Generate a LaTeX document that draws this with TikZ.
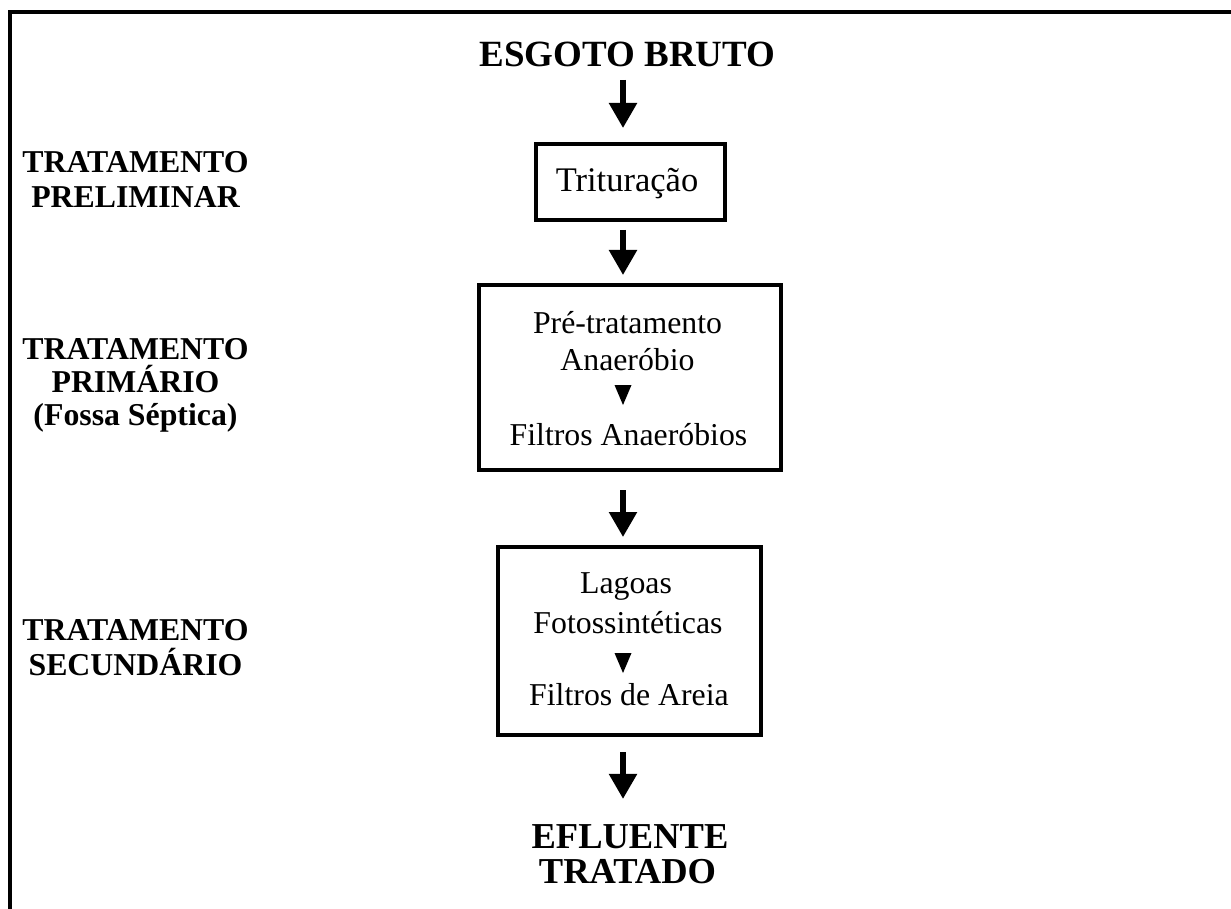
\documentclass[tikz,border=0pt]{standalone}
\usepackage{fontspec}
\setmainfont{Liberation Serif}
\usetikzlibrary{arrows.meta}
\tikzset{
  boxnode/.style={draw,line width=4pt,inner sep=0pt},
  lbl/.style={anchor=base,inner sep=0pt,font=\fontsize{31.8}{36}\selectfont\bfseries},
  txt/.style={anchor=base,inner sep=0pt,font=\fontsize{31.8}{38}\selectfont},
  big/.style={anchor=base,inner sep=0pt,font=\fontsize{36.5}{42}\selectfont\bfseries},
  arr/.style={line width=5.5pt,-{Triangle[width=27pt,length=25pt]}},
  tri/.style={fill=black}
}
\begin{document}
\begin{tikzpicture}[x=1pt,y=-1pt]
\useasboundingbox (0,0) rectangle (1231,909);
% frame
\draw[line width=4pt] (10,909) -- (10,12) -- (1231,12);
% axis of arrows
\coordinate (ax) at (623,0);
% top title
\node[anchor=base,inner sep=0pt,font=\fontsize{37}{42}\selectfont\bfseries] (esgoto) at (627.5,67) {ESGOTO BRUTO};
% boxes
\node[boxnode,minimum width=189pt,minimum height=76pt] (b1) at (630.5,182) {};
\node[boxnode,minimum width=302pt,minimum height=185pt] (b2) at (630,377.5) {};
\node[boxnode,minimum width=263pt,minimum height=188pt] (b3) at (629.5,641) {};
% box texts
\node[txt,font=\fontsize{34.5}{40}\selectfont] (t1) at (627,192) {Trituração};
\node[txt] (t2a) at (627.5,333) {Pré-tratamento};
\node[txt] (t2b) at (627.5,370) {Anaeróbio};
\node[txt] (t2c) at (628.5,445) {Filtros Anaeróbios};
\node[txt] (t3a) at (626,593) {Lagoas};
\node[txt] (t3b) at (628,633) {Fotossintéticas};
\node[txt] (t3c) at (629,705) {Filtros de Areia};
% small triangles
\fill[tri] (614.5,385) -- (631.5,385) -- (623,405) -- cycle;
\fill[tri] (614.5,653) -- (631.5,653) -- (623,673) -- cycle;
% bottom title
\node[big] (ef1) at (630,848) {EFLUENTE};
\node[big] (ef2) at (627.5,883) {TRATADO};
% left labels
\node[lbl] (l1a) at (135.5,173) {TRATAMENTO};
\node[lbl] (l1b) at (135.5,208) {PRELIMINAR};
\node[lbl] (l2a) at (135.5,359) {TRATAMENTO};
\node[lbl] (l2b) at (135.5,392) {PRIMÁRIO};
\node[lbl] (l2c) at (135.5,425) {(Fossa Séptica)};
\node[lbl] (l3a) at (135.5,640) {TRATAMENTO};
\node[lbl] (l3b) at (135.5,675) {SECUNDÁRIO};
% arrows
\draw[arr,shorten <=13pt,shorten >=14pt] (ax |- esgoto.base) -- (ax |- b1.north);
\draw[arr,shorten <=8pt,shorten >=8pt] (ax |- b1.south) -- (ax |- b2.north);
\draw[arr,shorten <=18pt,shorten >=8pt] (ax |- b2.south) -- (ax |- b3.north);
\draw[arr,shorten <=15pt,shorten >=25pt] (ax |- b3.south) -- (ax |- ef1.north);
\end{tikzpicture}
\end{document}
